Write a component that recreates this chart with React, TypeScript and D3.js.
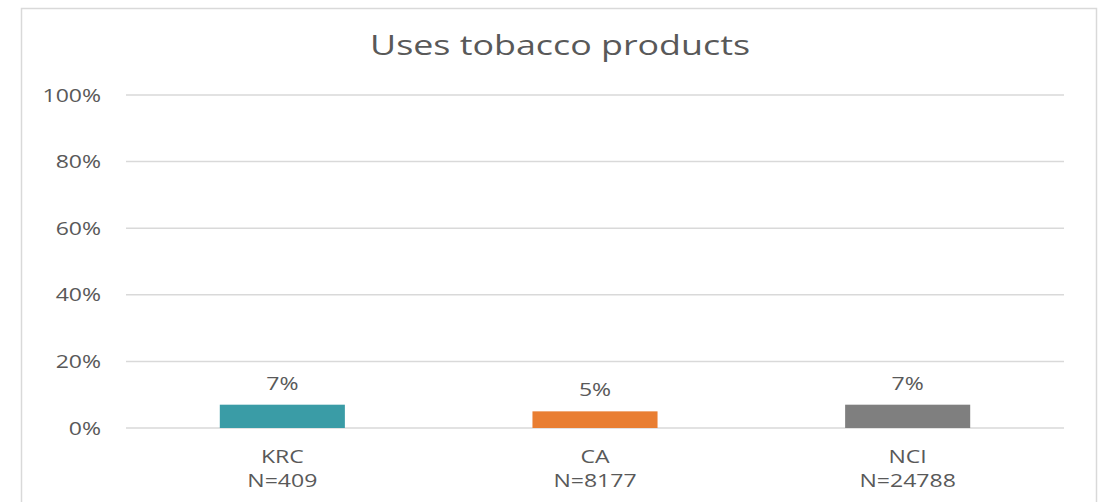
import React from "react";
import * as d3 from "d3";

const categories = ["KRC", "CA", "NCI"];
const sampleSizes = ["N=409", "N=8177", "N=24788"];
const values = [0.07, 0.05, 0.07];
const valueLabels = ["7%", "5%", "7%"];
const barColors = ["#3A9CA6", "#E97E32", "#7F7F7F"];
const yTicks = [0, 0.2, 0.4, 0.6, 0.8, 1.0];
const title = "Uses tobacco products";

const SX = 1.28;

function T({ x, y, anchor = "middle", size, children, fill }: any) {
  return (
    <g transform={`translate(${x},${y}) scale(${SX},1)`}>
      <text x={0} y={0} textAnchor={anchor} fontSize={size} fill={fill}>{children}</text>
    </g>
  );
}

export default function App() {
  const W = 1104, H = 502;
  const left = 126, right = 1064, top = 95, bottom = 428;
  const x = d3.scaleBand<string>().domain(categories).range([left, right]).paddingInner(0.6).paddingOuter(0.3);
  const y = d3.scaleLinear().domain([0, 1]).range([bottom, top]);
  const fmt = d3.format(".0%");
  const font = "'Open Sans', sans-serif";
  const txt = "#595959";
  return (
    <svg width={W} height={H} style={{ position: "absolute", left: 0, top: 0, background: "#fff" }} fontFamily={font}>
      <rect x={21.5} y={8.5} width={1075} height={520} fill="#fff" stroke="#d9d9d9" strokeWidth={1.5} />
      <T x={560} y={55} size={28} fill={txt}>{title}</T>
      {yTicks.map((t) => (
        <g key={t}>
          <line x1={left} x2={right} y1={y(t)} y2={y(t)} stroke="#d9d9d9" strokeWidth={1.5} />
          <T x={101} y={y(t) + 6.5} anchor="end" size={18} fill={txt}>{fmt(t)}</T>
        </g>
      ))}
      {categories.map((c, i) => {
        const bx = x(c)!;
        const bw = x.bandwidth();
        const cx = bx + bw / 2;
        return (
          <g key={c}>
            <rect x={bx} y={y(values[i])} width={bw} height={y(0) - y(values[i])} fill={barColors[i]} />
            <T x={cx} y={y(values[i]) - 15} size={18} fill={txt}>{valueLabels[i]}</T>
            <T x={cx} y={463} size={18} fill={txt}>{c}</T>
            <T x={cx} y={487} size={18} fill={txt}>{sampleSizes[i]}</T>
          </g>
        );
      })}
    </svg>
  );
}
